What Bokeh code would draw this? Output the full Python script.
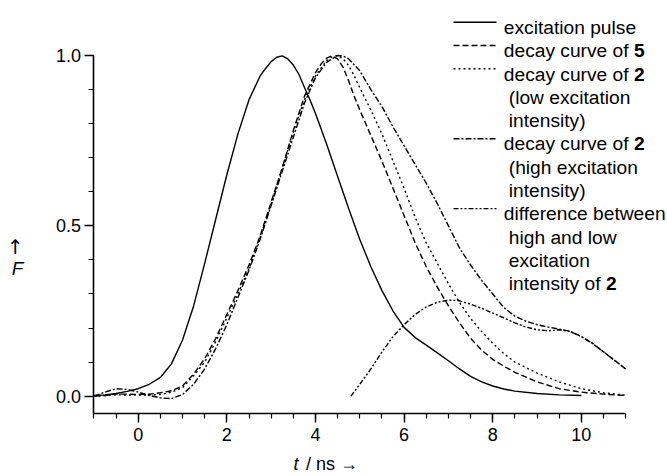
from bokeh.plotting import figure
from bokeh.models import Range1d, FixedTicker, Label, Arrow
from bokeh.embed import file_html
from bokeh.resources import INLINE

# ---------------- data ----------------
t_exc = [-1.0, -0.75, -0.5, -0.25, 0.0, 0.25, 0.5, 0.75, 1.0, 1.25, 1.5, 1.75, 2.0,
         2.25, 2.5, 2.75, 2.875, 3.0, 3.125, 3.25, 3.375, 3.5, 3.625, 3.75, 3.875,
         4.0, 4.25, 4.5, 4.75, 5.0, 5.25, 5.5, 5.75, 6.0, 6.25, 6.5, 6.75, 7.0,
         7.25, 7.5, 7.75, 8.0, 8.25, 8.5, 9.0, 9.5, 10.0]
f_exc = [0.002, 0.004, 0.008, 0.014, 0.022, 0.035, 0.055, 0.095, 0.165, 0.265, 0.39,
         0.52, 0.65, 0.77, 0.87, 0.94, 0.962, 0.982, 0.995, 0.999, 0.99, 0.972,
         0.945, 0.907, 0.87, 0.83, 0.74, 0.645, 0.55, 0.46, 0.38, 0.31, 0.25, 0.202,
         0.172, 0.15, 0.127, 0.104, 0.08, 0.058, 0.042, 0.03, 0.021, 0.015, 0.008,
         0.004, 0.002]

t_dec5 = [-1.0, -0.75, -0.5, -0.25, 0.0, 0.25, 0.5, 0.75, 1.0, 1.25, 1.5, 1.75, 2.0,
          2.25, 2.5, 2.75, 3.0, 3.25, 3.5, 3.75, 4.0, 4.125, 4.25, 4.375, 4.5,
          4.625, 4.75, 4.875, 5.0, 5.25, 5.5, 5.75, 6.0, 6.25, 6.5, 6.75, 7.0, 7.25,
          7.5, 7.75, 8.0, 8.25, 8.5, 9.0, 9.5, 10.0, 10.5, 11.0]
f_dec5 = [0.0, 0.002, 0.006, 0.006, 0.005, 0.006, 0.01, 0.016, 0.03, 0.065, 0.11,
          0.17, 0.24, 0.31, 0.385, 0.47, 0.57, 0.67, 0.78, 0.88, 0.95, 0.975, 0.992,
          0.999, 0.99, 0.965, 0.925, 0.88, 0.84, 0.765, 0.69, 0.61, 0.53, 0.45, 0.38,
          0.32, 0.265, 0.215, 0.17, 0.135, 0.108, 0.088, 0.07, 0.042, 0.022, 0.012,
          0.006, 0.002]

t_low = [-1.0, -0.5, 0.0, 0.5, 0.75, 1.0, 1.25, 1.5, 1.75, 2.0, 2.25, 2.5, 2.75,
         3.0, 3.25, 3.5, 3.75, 4.0, 4.25, 4.375, 4.5, 4.625, 4.75, 4.875, 5.0, 5.25,
         5.5, 5.75, 6.0, 6.25, 6.5, 6.75, 7.0, 7.25, 7.5, 7.75, 8.0, 8.25, 8.5, 9.0,
         9.5, 10.0, 10.5, 11.0]
f_low = [0.0, 0.004, 0.003, 0.005, 0.012, 0.025, 0.06, 0.1, 0.16, 0.23, 0.3, 0.375,
         0.465, 0.565, 0.67, 0.775, 0.87, 0.94, 0.985, 0.996, 1.0, 0.99, 0.97, 0.94,
         0.905, 0.84, 0.77, 0.69, 0.61, 0.525, 0.45, 0.39, 0.33, 0.275, 0.228, 0.19,
         0.155, 0.125, 0.1, 0.068, 0.042, 0.022, 0.01, 0.003]

t_high = [-1.0, -0.75, -0.5, -0.25, 0.0, 0.25, 0.5, 0.75, 1.0, 1.25, 1.5, 1.75, 2.0,
          2.25, 2.5, 2.75, 3.0, 3.25, 3.5, 3.75, 4.0, 4.25, 4.5, 4.625, 4.75, 5.0,
          5.25, 5.5, 5.75, 6.0, 6.25, 6.5, 6.75, 7.0, 7.25, 7.5, 7.75, 8.0, 8.25, 8.5,
          8.75, 9.0, 9.25, 9.5, 9.75, 10.0, 10.25, 10.5, 10.75, 11.0]
f_high = [0.0, 0.012, 0.022, 0.02, 0.012, 0.002, -0.005, -0.007, 0.005, 0.035, 0.08,
          0.14, 0.21, 0.29, 0.37, 0.46, 0.56, 0.66, 0.76, 0.86, 0.935, 0.98, 1.0,
          0.998, 0.99, 0.955, 0.9, 0.85, 0.79, 0.735, 0.68, 0.625, 0.565, 0.5, 0.435,
          0.385, 0.34, 0.3, 0.26, 0.235, 0.22, 0.21, 0.203, 0.197, 0.19, 0.175,
          0.155, 0.13, 0.105, 0.08]

t_diff = [4.8, 5.0, 5.25, 5.5, 5.75, 6.0, 6.25, 6.5, 6.75, 7.0, 7.25, 7.5, 7.75, 8.0,
          8.25, 8.5, 8.75, 9.0, 9.25, 9.5, 9.75, 10.0, 10.25, 10.5, 10.75, 11.0]
f_diff = [0.0, 0.035, 0.08, 0.13, 0.175, 0.21, 0.24, 0.262, 0.276, 0.282, 0.28, 0.27,
          0.258, 0.244, 0.23, 0.215, 0.203, 0.195, 0.192, 0.195, 0.19, 0.175, 0.155,
          0.13, 0.105, 0.08]

x_ticks = [0, 2, 4, 6, 8, 10]
x_minor = [-1 + 0.5 * i for i in range(25)]
y_ticks = [0.0, 0.5, 1.0]
y_tick_labels = ["0.0", "0.5", "1.0"]
y_minor = [round(0.1 * i, 1) for i in range(11)]

legend_rows = [
    [("excitation pulse", "normal")],
    [("decay curve of ", "normal"), ("5", "bold")],
    [("decay curve of ", "normal"), ("2", "bold")],
    [("(low excitation", "normal")],
    [("intensity)", "normal")],
    [("decay curve of ", "normal"), ("2", "bold")],
    [("(high excitation", "normal")],
    [("intensity)", "normal")],
    [("difference between", "normal")],
    [("high and low", "normal")],
    [("excitation", "normal")],
    [("intensity of ", "normal"), ("2", "bold")],
]
indented = [False, False, False, True, True, False, True, True, False, True, True, True]

# ---------------- layout ----------------
FONT = "Liberation Sans"
W, H = 667, 476
XMIN, XMAX = -1.0, 11.0
AX_L, AX_R = 93.4, 625.2      # pixel columns of x = -1 and x = 11
PY1, PY0 = 55.0, 395.7        # pixel rows of F = 1 and F = 0
AX_B = 413.0                  # pixel row of the x axis line
kx = (AX_R - AX_L) / (XMAX - XMIN)
ky = (PY0 - PY1)
x_start, x_end = XMIN - AX_L / kx, XMAX + (W - AX_R) / kx
y_end, y_start = 1.0 + PY1 / ky, -(H - PY0) / ky
y_axis_bottom = -(AX_B - PY0) / ky


def sx(px):
    return x_start + px / kx


def sy(py):
    return y_end - py / ky


p = figure(width=W, height=H, x_range=Range1d(x_start, x_end),
           y_range=Range1d(y_start, y_end),
           output_backend="svg", toolbar_location=None,
           min_border=0, min_border_left=0, min_border_right=0,
           min_border_top=0, min_border_bottom=0)
p.grid.visible = False
p.outline_line_color = None
p.background_fill_color = "white"
p.border_fill_color = "white"

for ax in (p.xaxis[0], p.yaxis[0]):
    ax.axis_line_width = 1.6
    ax.axis_line_color = "black"
    ax.major_tick_line_color = "black"
    ax.minor_tick_line_color = "black"
    ax.major_tick_line_width = 1.4
    ax.minor_tick_line_width = 1.2
    ax.major_tick_in = 0
    ax.major_tick_out = 9
    ax.minor_tick_in = 0
    ax.minor_tick_out = 5
    ax.major_label_text_font = FONT
    ax.major_label_text_font_size = "18px"
    ax.major_label_text_color = "black"

p.xaxis[0].ticker = FixedTicker(ticks=x_ticks, minor_ticks=x_minor)
p.xaxis[0].major_label_standoff = 5
p.xaxis[0].fixed_location = y_axis_bottom
p.xaxis[0].bounds = (XMIN, XMAX)
p.yaxis[0].ticker = FixedTicker(ticks=y_ticks, minor_ticks=y_minor)
p.yaxis[0].major_label_overrides = {v: s for v, s in zip(y_ticks, y_tick_labels)}
p.yaxis[0].major_label_standoff = 4
p.yaxis[0].fixed_location = XMIN
p.yaxis[0].bounds = (y_axis_bottom, 1.0)

LW = 1.4
p.line(t_exc, f_exc, line_color="black", line_width=LW)
p.line(t_dec5, f_dec5, line_color="black", line_width=LW, line_dash="6 3")
p.line(t_low, f_low, line_color="black", line_width=LW, line_dash="2 3")
p.line(t_high, f_high, line_color="black", line_width=LW, line_dash="6 2 2 2")
p.line(t_diff, f_diff, line_color="black", line_width=LW, line_dash="5 2 2 2 2 2")

# ---------------- legend (drawn by hand) ----------------
AW = {"a": 556, "c": 500, "d": 556, "e": 556, "f": 278, "i": 222, "n": 556, "o": 556,
      "r": 333, "s": 500, "t": 278, "u": 556, "v": 500, "y": 500, " ": 278}
LFS = 19.2
dashes = {0: None, 1: "6 3", 2: "2 3", 5: "6 2 2 2", 8: "5 2 2 2 2 2"}
row0, step = 21.7, 23.3
for k, segs in enumerate(legend_rows):
    cy = row0 + k * step
    xs = 503.3 + (5 if indented[k] else 0)
    for txt, weight in segs:
        p.add_layout(Label(x=sx(xs), y=sy(cy + 5.2), text=txt, text_font=FONT,
                           text_font_size=f"{LFS}px", text_font_style=weight,
                           text_baseline="alphabetic", text_align="left",
                           text_color="black"))
        xs += sum(AW.get(c, 556) for c in txt) / 1000 * LFS
    if k in dashes:
        a = Arrow(end=None, x_start=sx(453), y_start=sy(cy), x_end=sx(496), y_end=sy(cy),
                  line_color="black", line_width=LW)
        if dashes[k]:
            a.line_dash = dashes[k]
        p.add_layout(a)

# ---------------- axis titles ----------------
XL_MID = 463.0
p.add_layout(Label(x=sx(293), y=sy(XL_MID), text="t", text_font=FONT,
                   text_font_size="18px", text_font_style="italic", text_color="black",
                   text_baseline="middle", text_align="left"))
p.add_layout(Label(x=sx(305.5), y=sy(XL_MID), text="/ ns \u2192", text_font=FONT,
                   text_font_size="18px", text_color="black",
                   text_baseline="middle", text_align="left"))
p.add_layout(Label(x=sx(15), y=sy(246), text="\u2191", text_font="DejaVu Sans",
                   text_font_size="20px", text_color="black",
                   text_baseline="middle", text_align="center"))
p.add_layout(Label(x=sx(17), y=sy(268), text="F", text_font=FONT, text_font_size="19px",
                   text_font_style="italic", text_color="black",
                   text_baseline="middle", text_align="center"))

open("out.html", "w").write(file_html(p, INLINE))
